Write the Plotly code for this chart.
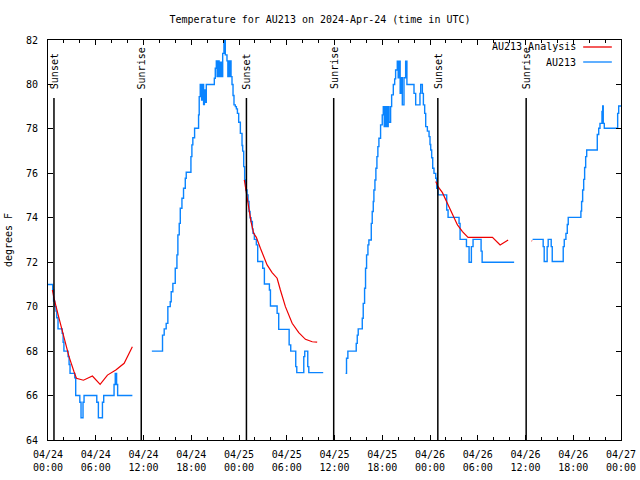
import pandas as pd
import plotly.graph_objects as go

BASE = pd.Timestamp("2024-04-24 00:00")

# ---- AU213 observations: (hours since 04/24 00:00 UTC, degrees F) at each change ----
obs_seg1_h = [0, 0.59, 0.70, 0.85, 1.00, 1.10, 1.26, 1.78, 1.90, 2.00, 2.52, 2.65, 2.77, 3.36, 3.48,
              4.00, 4.15, 4.40, 4.53, 6.13, 6.33, 6.84, 7.00, 8.30, 8.45, 8.62, 8.75, 10.60]
obs_seg1_t = [71.0, 70.75, 70.25, 70.0, 69.8, 69.5, 69.0, 68.8, 68.4, 68.0, 67.75, 67.4, 67.0, 66.8, 66.0,
              65.7, 65.0, 65.7, 66.0, 65.7, 65.0, 65.7, 66.0, 66.5, 67.0, 66.5, 66.0, 66.0]

obs_seg2_h = [13.05, 14.39, 14.60, 14.85, 15.06, 15.36, 15.48, 15.69, 15.99, 16.20, 16.32, 16.49, 16.62,
              16.83, 17.03, 17.25, 17.37, 17.96, 18.08, 18.20, 18.42, 18.92, 19.00, 19.13, 19.30, 19.40,
              19.55, 19.65, 19.76, 19.89, 20.90, 21.02, 21.15, 21.25, 21.40, 21.50, 21.65, 21.80, 21.95,
              22.11, 22.28, 22.49, 22.60, 22.70, 22.80, 22.91, 23.00, 23.12, 23.25, 23.37, 23.54, 23.67,
              23.80, 23.96, 24.17, 24.38, 24.46, 24.59, 24.71, 24.84, 25.01, 25.14, 25.26, 25.39, 25.51,
              25.68, 25.76, 25.93, 26.18, 26.35, 26.98, 27.19, 27.82, 27.95, 28.79, 28.99, 30.30, 30.50,
              31.13, 31.26, 32.14, 32.26, 32.64, 32.77, 34.58]
obs_seg2_t = [68.0, 68.72, 69.0, 69.25, 70.0, 70.22, 70.67, 71.05, 71.73, 72.33, 73.23, 73.75, 74.43,
              74.88, 75.33, 75.78, 76.05, 76.75, 77.28, 77.6, 78.03, 78.63, 79.45, 80.0, 79.3, 80.0,
              79.1, 79.75, 79.2, 80.0, 80.28, 80.73, 81.06, 80.35, 81.06, 80.35, 81.0, 80.35, 81.4,
              82.0, 81.33, 81.06, 80.35, 81.06, 80.35, 81.06, 80.35, 80.0, 79.5, 79.08, 79.0, 78.9,
              78.7, 78.3, 77.8, 77.25, 77.0, 76.3, 75.7, 75.25, 75.03, 74.73, 74.28, 74.0, 73.83,
              73.5, 73.3, 73.03, 72.78, 72.03, 71.73, 71.02, 70.75, 70.03, 69.7, 68.98, 68.28, 68.0,
              67.3, 67.03, 67.75, 68.0, 67.3, 67.03, 67.03]

obs_seg3_h = [37.39, 37.51, 37.68, 38.73, 38.86, 38.98, 39.49, 39.61, 39.78, 39.90, 40.03, 40.20, 40.32,
              40.62, 40.74, 40.87, 40.95, 41.08, 41.20, 41.33, 41.45, 41.58, 41.79, 42.00, 42.13, 42.25,
              42.35, 42.45, 42.55, 42.65, 42.75, 42.85, 43.05, 43.18, 43.39, 43.56, 43.68, 43.89, 44.00,
              44.10, 44.25, 44.40, 44.52, 44.73, 44.94, 45.10, 45.99, 46.20, 46.74, 46.83, 47.04, 47.17,
              47.33, 47.46, 47.67, 47.88, 48.00, 48.09, 48.21, 48.34, 48.50, 48.72, 48.84, 49.01, 50.10,
              50.27, 51.65, 51.78, 52.58, 52.91, 53.20, 53.41, 54.42, 54.55, 58.57]
obs_seg3_t = [67.0, 67.68, 68.0, 68.35, 68.72, 69.0, 69.48, 70.15, 70.83, 71.73, 72.33, 72.78, 73.0,
              73.75, 74.28, 74.73, 75.25, 75.7, 76.23, 76.75, 77.2, 77.58, 78.18, 78.63, 79.0, 78.1,
              79.0, 78.1, 79.0, 78.1, 79.0, 78.3, 79.0, 79.53, 80.0, 80.25, 80.65, 81.05, 80.3,
              81.05, 79.6, 80.3, 79.08, 80.3, 81.05, 80.0, 79.6, 79.08, 79.6, 80.0, 79.6, 79.08,
              78.7, 78.1, 77.9, 77.65, 77.3, 77.05, 76.7, 76.23, 76.0, 75.78, 75.33, 75.03, 74.35,
              74.02, 73.75, 73.03, 72.7, 72.0, 72.7, 73.03, 72.5, 72.0, 72.0]

obs_seg4_h = [60.89, 62.22, 62.35, 62.72, 62.85, 63.23, 63.36, 64.74, 64.87, 65.08, 65.25, 65.37, 66.96,
              67.05, 67.18, 67.31, 67.43, 67.56, 67.69, 69.02, 69.20, 69.36, 69.61, 69.70, 69.77, 69.90,
              71.58, 71.71, 72.00]
obs_seg4_t = [73.03, 72.7, 72.03, 72.7, 73.03, 72.7, 72.03, 72.7, 73.03, 73.3, 73.7, 74.02, 74.3,
              74.73, 75.25, 75.73, 76.26, 76.75, 77.05, 77.75, 78.03, 78.25, 78.78, 79.03, 78.25, 78.03,
              78.7, 79.03, 79.03]

# ---- AU213 Analysis ----
ana_seg1_h = [0.55, 0.75, 1.38, 2.00, 2.64, 3.27, 3.57, 4.45, 5.58, 6.55, 7.47, 8.52, 9.57, 10.60]
ana_seg1_t = [70.75, 70.38, 69.48, 68.58, 67.75, 67.07, 66.78, 66.69, 66.88, 66.5, 66.92, 67.15, 67.45, 68.2]
ana_seg2_h = [24.67, 25.01, 25.22, 25.51, 25.84, 26.18, 26.69, 27.53, 28.16, 28.79, 29.20, 29.83,
              30.68, 31.51, 32.35, 33.20, 33.82]
ana_seg2_t = [75.7, 74.95, 74.43, 73.83, 73.3, 73.12, 72.63, 71.88, 71.53, 71.28, 70.75, 70.0,
              69.25, 68.83, 68.53, 68.42, 68.4]
ana_seg3_h = [48.72, 49.01, 49.56, 50.19, 50.82, 51.45, 52.08, 52.78, 55.85, 56.81, 57.82]
ana_seg3_t = [75.63, 75.4, 75.13, 74.65, 74.13, 73.68, 73.38, 73.12, 73.12, 72.78, 73.0]
ana_seg4_h = [60.76, 60.84]
ana_seg4_t = [72.97, 72.95]

# ---- sun events (UTC) ----
event_labels = ["Sunset", "Sunrise", "Sunset", "Sunrise", "Sunset", "Sunrise"]
event_times = ["2024-04-24 00:45", "2024-04-24 11:43", "2024-04-25 00:56",
               "2024-04-25 11:54", "2024-04-26 00:59", "2024-04-26 12:05"]

FONT = "DejaVu Sans Mono, Liberation Mono, monospace"
BLUE = "#0a84ff"
RED = "#ee0000"


def join(segs):
    xs, ys = [], []
    for h, t in segs:
        xs += list(BASE + pd.to_timedelta(h, unit="h")) + [None]
        ys += list(t) + [None]
    return xs[:-1], ys[:-1]


ox, oy = join([(obs_seg1_h, obs_seg1_t), (obs_seg2_h, obs_seg2_t),
               (obs_seg3_h, obs_seg3_t), (obs_seg4_h, obs_seg4_t)])
ax_, ay_ = join([(ana_seg1_h, ana_seg1_t), (ana_seg2_h, ana_seg2_t),
                 (ana_seg3_h, ana_seg3_t), (ana_seg4_h, ana_seg4_t)])

fig = go.Figure()
fig.add_trace(go.Scatter(x=ox, y=oy, mode="lines", name="AU213", line=dict(color=BLUE, width=1.4, shape="hv"),
                         connectgaps=False, showlegend=False))
fig.add_trace(go.Scatter(x=ax_, y=ay_, mode="lines", name="AU213 Analysis", line=dict(color=RED, width=1.2),
                         connectgaps=False, showlegend=False))

shapes = []
annotations = []
for lab, t in zip(event_labels, event_times):
    shapes.append(dict(type="line", xref="x", yref="paper", x0=t, x1=t, y0=0, y1=0.855,
                       line=dict(color="black", width=1.5)))
    annotations.append(dict(text=lab, x=t, xref="x", y=0.872, yref="paper", textangle=-90,
                            xanchor="center", yanchor="bottom", showarrow=False,
                            font=dict(family=FONT, size=10, color="black")))

# legend (gnuplot style: text left, sample right)
legend_items = [("AU213 Analysis", RED, 0.9825), ("AU213", BLUE, 0.945)]
for name, col, yy in legend_items:
    annotations.append(dict(text=name, x=0.925, xref="paper", y=yy, yref="paper", xanchor="right",
                            yanchor="middle", showarrow=False, font=dict(family=FONT, size=10, color="black")))
    shapes.append(dict(type="line", xref="paper", yref="paper", x0=0.934, x1=0.984, y0=yy, y1=yy,
                       line=dict(color=col, width=1.3)))

fig.update_layout(
    width=640, height=480,
    margin=dict(l=48, r=19, t=40, b=40, autoexpand=False),
    paper_bgcolor="white", plot_bgcolor="white",
    font=dict(family=FONT, size=10, color="black"),
    title=dict(text="Temperature for AU213 on 2024-Apr-24 (time in UTC)", x=0.5, xanchor="center",
               y=1 - 19 / 480, yanchor="middle", yref="container", font=dict(family=FONT, size=10)),
    shapes=shapes, annotations=annotations, showlegend=False,
)
fig.update_xaxes(
    type="date", range=["2024-04-24 00:00", "2024-04-27 00:00"], automargin=False,
    tick0="2024-04-24 00:00", dtick=6 * 3600 * 1000, tickformat="%m/%d<br>%H:%M",
    showgrid=False, zeroline=False, showline=True, linecolor="black", linewidth=1, mirror="ticks",
    ticks="inside", ticklen=5, tickcolor="black", ticklabelstandoff=5,
    minor=dict(dtick=2 * 3600 * 1000, ticks="inside", ticklen=3, tickcolor="black", showgrid=False),
    tickfont=dict(family=FONT, size=10),
)
fig.update_yaxes(
    range=[64, 82], dtick=2, tick0=64, automargin=False,
    showgrid=False, zeroline=False, showline=True, linecolor="black", linewidth=1, mirror="ticks",
    ticks="inside", ticklen=5, tickcolor="black", ticklabelstandoff=7,
    title=dict(text="degrees F", standoff=11, font=dict(family=FONT, size=10)),
    tickfont=dict(family=FONT, size=10),
)

fig.write_html("out.html", config={"displayModeBar": False},
               post_script="document.body.style.margin='0';document.body.style.overflow='hidden';")
